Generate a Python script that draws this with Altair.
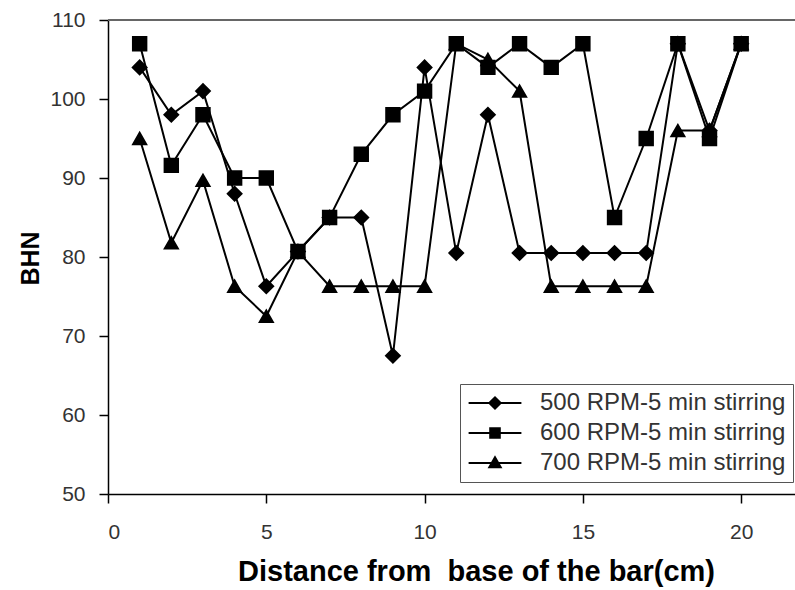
import altair as alt
import pandas as pd

distance = list(range(1, 21))
rpm500 = [104, 98, 101, 88, 76.3, 80.7, 85, 85, 67.5, 104, 80.5, 98, 80.5, 80.5, 80.5, 80.5, 80.5, 107, 96, 107]
rpm600 = [107, 91.6, 98, 90, 90, 80.7, 85, 93, 98, 101, 107, 104, 107, 104, 107, 85, 95, 107, 95, 107]
rpm700 = [95, 81.8, 89.7, 76.3, 72.5, 80.7, 76.3, 76.3, 76.3, 76.3, 107, 105, 101, 76.3, 76.3, 76.3, 76.3, 96, 96, 107]
series_names = ["500 RPM-5 min stirring", "600 RPM-5 min stirring", "700 RPM-5 min stirring"]
x_ticks = [0, 5, 10, 15, 20]
y_ticks = [50, 60, 70, 80, 90, 100, 110]

rows = []
for name, vals in zip(series_names, [rpm500, rpm600, rpm700]):
    for d, v in zip(distance, vals):
        rows.append({"Distance": d, "BHN": v, "Series": name})
df = pd.DataFrame(rows)

FONT = "Liberation Sans"

x_enc = alt.X("Distance:Q",
              scale=alt.Scale(domain=[0, 21.7], nice=False, zero=False),
              axis=alt.Axis(values=x_ticks, title="Distance from\u00a0 base of the bar(cm)",
                            titleFontSize=29, titleFontWeight="bold", titleFont=FONT,
                            titleColor="black", titleX=368, titleY=86,
                            titleBaseline="alphabetic", labelPadding=18, grid=False))
y_enc = alt.Y("BHN:Q",
              scale=alt.Scale(domain=[50, 110], nice=False, zero=False),
              axis=alt.Axis(values=y_ticks, title="BHN", titleFontSize=25,
                            titleFontWeight="bold", titleFont=FONT, titleColor="black",
                            titleX=-78, titleY=238, titleBaseline="middle",
                            titleAngle=270, labelPadding=14, grid=False))

base = alt.Chart(df)

lines = base.mark_line(color="black", strokeWidth=2).encode(
    x=x_enc, y=y_enc, detail="Series:N"
)

points = base.mark_point(filled=True, fill="black", stroke="black", opacity=1).encode(
    x="Distance:Q", y="BHN:Q",
    shape=alt.Shape("Series:N",
                    scale=alt.Scale(domain=series_names,
                                    range=["diamond", "square", "triangle-up"]),
                    legend=None),
    size=alt.Size("Series:N",
                  scale=alt.Scale(domain=series_names, range=[190, 170, 210]),
                  legend=None),
)

# legend glyphs: a line through a solid marker (nested outlines so the stroke fills it)
legend_paths = [
    "M-4.4,0H4.4"
    "M-0.95,0L0,-0.95L0.95,0L0,0.95Z"
    "M-0.6,0L0,-0.6L0.6,0L0,0.6Z"
    "M-0.25,0L0,-0.25L0.25,0L0,0.25Z",
    "M-4.4,0H4.4"
    "M-0.8,-0.8H0.8V0.8H-0.8Z"
    "M-0.5,-0.5H0.5V0.5H-0.5Z"
    "M-0.2,-0.2H0.2V0.2H-0.2Z",
    "M-4.4,0H4.4"
    "M0,-0.95L-0.95,0.7H0.95Z"
    "M0,-0.55L-0.58,0.45H0.58Z"
    "M0,-0.15L-0.2,0.2H0.2Z",
]

legend_layer = base.transform_filter("false").mark_point(
    filled=False, opacity=1
).encode(
    x="Distance:Q", y="BHN:Q",
    color=alt.value("black"),
    strokeWidth=alt.value(2),
    shape=alt.Shape("Series:N",
                    scale=alt.Scale(domain=series_names, range=legend_paths),
                    legend=alt.Legend(title=None, orient="none", legendX=352, legendY=364,
                                      labelFont=FONT, labelFontSize=24, labelColor="#333",
                                      labelLimit=500,
                                      symbolSize=144, symbolStrokeWidth=2,
                                      symbolStrokeColor="black",
                                      symbolOffset=16, labelOffset=33,
                                      strokeColor="#555", fillColor="white",
                                      padding=7, rowPadding=6)),
)

top_border = alt.Chart(pd.DataFrame({"v": [110]})).mark_rule(color="#666", strokeWidth=2).encode(
    y=alt.Y("v:Q")
)

chart = alt.layer(lines, points, top_border, legend_layer).resolve_scale(
    shape="independent"
).properties(
    width=687, height=474,
    autosize=alt.AutoSizeParams(type="none"),
    padding={"left": 108, "top": 20, "right": 0, "bottom": 96},
    background="white",
).configure_view(stroke=None).configure_axis(
    domainColor="black", domainWidth=1.5, tickColor="black", tickWidth=1.5, tickSize=9,
    labelFont=FONT, labelFontSize=21, labelColor="#333", grid=False
)

chart.save("out.html", embed_options={"renderer": "svg", "actions": False})
